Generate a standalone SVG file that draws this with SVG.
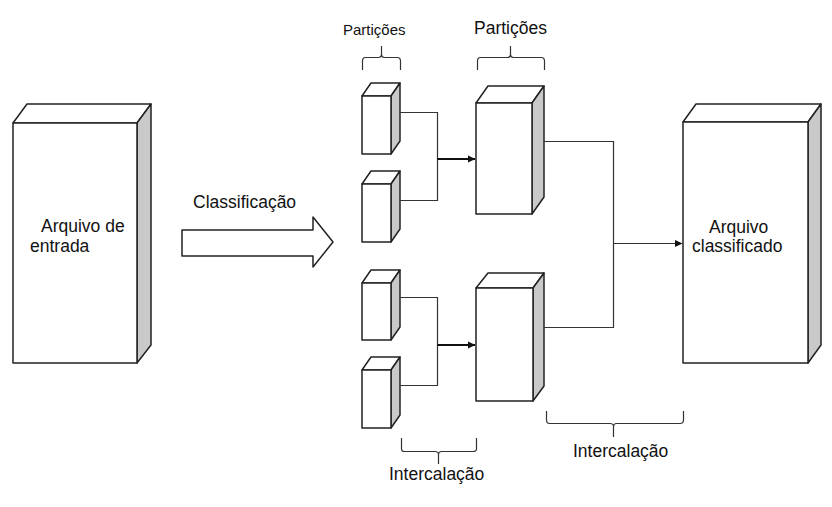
<svg xmlns="http://www.w3.org/2000/svg" width="832" height="507" viewBox="0 0 832 507">
<style>
.front{fill:#fff;stroke:#222;stroke-width:1.5;stroke-linejoin:round}
.top{fill:#fff;stroke:#222;stroke-width:1.5;stroke-linejoin:round}
.side{fill:#c9c9c9;stroke:#222;stroke-width:1.5;stroke-linejoin:round}
.conn{fill:none;stroke:#333;stroke-width:1.2}
.arr{fill:none;stroke:#111;stroke-width:1.8}
.brace{fill:none;stroke:#333;stroke-width:1.2}
text{font-family:"Liberation Sans",Arial,sans-serif;fill:#111;font-size:17.5px}
.sm{font-size:15px}
</style>
<defs>
<marker id="ah" markerWidth="8" markerHeight="8" refX="7" refY="4" orient="auto" markerUnits="userSpaceOnUse">
<path d="M0,0.5 L7.5,4 L0,7.5 Z" fill="#111"/>
</marker>
</defs>
<rect width="832" height="507" fill="#fff"/>

<g id="arquivo-entrada">
<path class="top" d="M13,123 L27,104 L151,104 L137,123 Z"/>
<path class="side" d="M137,123 L151,104 L151,345 L137,363 Z"/>
<rect class="front" x="13" y="123" width="124" height="240"/>
<text x="41" y="232">Arquivo de</text>
<text x="30" y="252">entrada</text>
</g>

<g id="classificacao">
<path class="front" d="M182,230 L313,230 L313,217 L333,242 L313,267 L313,256 L182,256 Z"/>
<text x="193" y="208">Classificação</text>
</g>

<g id="particao-1">
<path class="top" d="M362,96 L371,83 L400,83 L391,96 Z"/>
<path class="side" d="M391,96 L400,83 L400,141 L391,154 Z"/>
<rect class="front" x="362" y="96" width="29" height="58"/>
</g>
<g id="particao-2">
<path class="top" d="M362,184 L371,171 L400,171 L391,184 Z"/>
<path class="side" d="M391,184 L400,171 L400,229 L391,242 Z"/>
<rect class="front" x="362" y="184" width="29" height="58"/>
</g>
<g id="particao-3">
<path class="top" d="M362,283 L371,270 L400,270 L391,283 Z"/>
<path class="side" d="M391,283 L400,270 L400,327 L391,340 Z"/>
<rect class="front" x="362" y="283" width="29" height="57"/>
</g>
<g id="particao-4">
<path class="top" d="M362,370 L371,357 L400,357 L391,370 Z"/>
<path class="side" d="M391,370 L400,357 L400,415 L391,428 Z"/>
<rect class="front" x="362" y="370" width="29" height="58"/>
</g>

<g id="particao-grande-1">
<path class="top" d="M476,103 L488,86 L544,86 L532,103 Z"/>
<path class="side" d="M532,103 L544,86 L544,197 L532,214 Z"/>
<rect class="front" x="476" y="103" width="56" height="111"/>
</g>
<g id="particao-grande-2">
<path class="top" d="M476,288 L488,273 L544,273 L533,288 Z"/>
<path class="side" d="M533,288 L544,273 L544,386 L533,401 Z"/>
<rect class="front" x="476" y="288" width="57" height="113"/>
</g>

<g id="arquivo-classificado">
<path class="top" d="M683,122 L696,104 L821,104 L808,122 Z"/>
<path class="side" d="M808,122 L821,104 L821,345 L808,363 Z"/>
<rect class="front" x="683" y="122" width="125" height="241"/>
<text x="709" y="233">Arquivo</text>
<text x="692" y="252">classificado</text>
</g>

<g id="connectors">
<path class="conn" d="M400,112.5 H437.5 V200.5 H400"/>
<path class="arr" d="M437.5,159 H475" marker-end="url(#ah)"/>
<path class="conn" d="M400,297.5 H437.5 V385.5 H400"/>
<path class="arr" d="M437.5,345 H475" marker-end="url(#ah)"/>
<path class="conn" d="M544,141.5 H613.5 V327.5 H544"/>
<path class="conn" d="M613.5,243.5 H682" marker-end="url(#ah)"/>
</g>

<g id="labels">
<path class="brace" d="M362.5,70 V61 Q362.5,57.5 365.5,57.5 H378 Q381.5,57.5 381.5,54.5 V46 M381.5,54.5 Q381.5,57.5 384.5,57.5 H397 Q400.5,57.5 400.5,61 V70"/>
<text class="sm" x="343" y="35">Partições</text>
<path class="brace" d="M477.5,70 V61 Q477.5,57.5 480.5,57.5 H507 Q510.5,57.5 510.5,54.5 V46 M510.5,54.5 Q510.5,57.5 513.5,57.5 H541 Q544.5,57.5 544.5,61 V70"/>
<text x="474" y="34">Partições</text>
<path class="brace" d="M401.5,438 V449 Q401.5,451.5 404.5,451.5 H435 Q438.5,451.5 438.5,454.5 V464 M438.5,454.5 Q438.5,451.5 441.5,451.5 H473 Q476.5,451.5 476.5,449 V438"/>
<text x="389" y="480">Intercalação</text>
<path class="brace" d="M546.5,411 V420 Q546.5,423.5 549.5,423.5 H610 Q613.5,423.5 613.5,426.5 V437 M613.5,426.5 Q613.5,423.5 616.5,423.5 H680 Q683.5,423.5 683.5,420 V411"/>
<text x="573" y="457">Intercalação</text>
</g>
</svg>
